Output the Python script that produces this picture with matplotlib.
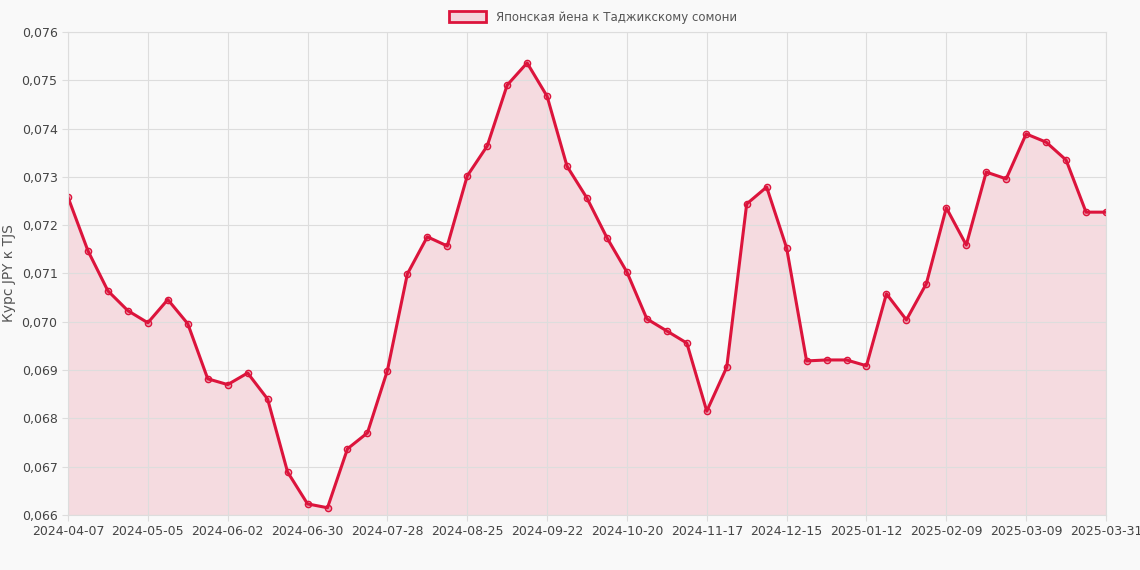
import datetime
import matplotlib
matplotlib.use("Agg")
import matplotlib.pyplot as plt
from matplotlib.patches import Patch

# weekly JPY->TJS rates
start = datetime.date(2024, 4, 7)
rates = [0.07258, 0.07147, 0.07064, 0.07023, 0.06998, 0.07046, 0.06996, 0.06882,
         0.06870, 0.06894, 0.06840, 0.06689, 0.06623, 0.06615, 0.06737, 0.06770,
         0.06899, 0.07099, 0.07176, 0.07157, 0.07302, 0.07364, 0.07490, 0.07536,
         0.07467, 0.07322, 0.07256, 0.07174, 0.07103, 0.07006, 0.06981, 0.06956,
         0.06815, 0.06906, 0.07244, 0.07279, 0.07153, 0.06919, 0.06921, 0.06921,
         0.06909, 0.07058, 0.07004, 0.07079, 0.07236, 0.07159, 0.07310, 0.07296,
         0.07389, 0.07372, 0.07335, 0.07227, 0.07227]
dates = [(start + datetime.timedelta(weeks=i)).isoformat() for i in range(len(rates))]
dates[-1] = "2025-03-31"
series_label = "Японская йена к Таджикскому сомони"
y_label = "Курс JPY к TJS"

line_color = "#dc143c"
bg = "#f9f9f9"

fig = plt.figure(figsize=(11.4, 5.7), dpi=100, facecolor=bg)
ax = fig.add_axes([68/1140, 1-515/570, (1106-68)/1140, (515-32)/570], facecolor=bg)
x = list(range(len(rates)))
ax.fill_between(x, rates, 0.066, color=line_color, alpha=0.13, linewidth=0)
ax.plot(x, rates, color=line_color, linewidth=2.2, marker="o", markersize=4.5,
        markerfacecolor=(0.86, 0.08, 0.24, 0.3), markeredgecolor=line_color, markeredgewidth=1)

ax.set_xlim(0, len(rates) - 1)
ax.set_ylim(0.066, 0.076)
ticks = list(range(0, len(rates) - 1, 4)) + [len(rates) - 1]
ax.set_xticks(ticks)
ax.set_xticklabels([dates[t] for t in ticks])
ax.set_yticks([0.066 + 0.001 * i for i in range(11)])
ax.set_yticklabels([f"{0.066 + 0.001 * i:.3f}".replace(".", ",") for i in range(11)])
ax.tick_params(labelsize=9, colors="#444444", length=4, color="#dddddd")
ax.grid(True, color="#dddddd", linewidth=0.8)
for s in ax.spines.values():
    s.set_color("#dddddd")
ax.set_ylabel(y_label, fontsize=10, color="#555555")

fig.legend(handles=[Patch(facecolor=(0.86, 0.08, 0.24, 0.15), edgecolor=line_color, linewidth=2,
                          label=series_label)],
           loc="upper center", bbox_to_anchor=(0.52, 1.0), frameon=False, fontsize=8.5,
           labelcolor="#555555", handlelength=3.2, handleheight=1.0)

fig.savefig("out.png", dpi=100, facecolor=bg)
